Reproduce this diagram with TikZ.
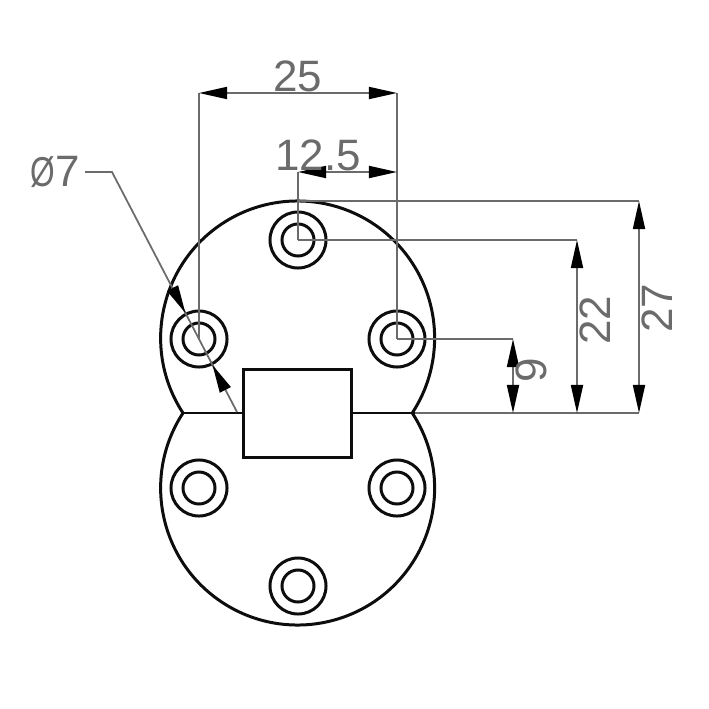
\documentclass[tikz,border=0pt]{standalone}
\usepackage{graphicx}
\usepackage{fontspec}
\setmainfont{Liberation Sans}
\usetikzlibrary{arrows.meta}
\definecolor{dimgray}{gray}{0.42}
\definecolor{partblack}{gray}{0.05}
\tikzset{
  part/.style={draw=partblack,line width=0.85pt},
  dimline/.style={draw=dimgray,line width=0.5pt},
  dimtip/.style={dimline,{Triangle[length=2.8mm,width=1.2mm,color=black]}-{Triangle[length=2.8mm,width=1.2mm,color=black]}},
  leadtip/.style={dimline,-{Triangle[length=2.8mm,width=1.2mm,color=black]}},
  dimtext/.style={text=dimgray,font=\fontsize{12.5}{12.5}\selectfont,inner sep=0pt},
}
\begin{document}
\begin{tikzpicture}[x=0.01cm,y=-0.01cm]
  \useasboundingbox (0,0) rectangle (709,709);

  % body
  \coordinate (hingeL) at (183,413);
  \coordinate (hingeR) at (415,413);
  \draw[part] (hingeL) arc[start angle=146.8,end angle=393.2,radius=137];
  \draw[part] (hingeL) arc[start angle=213.2,end angle=-33.2,radius=137];

  \node[part,minimum width=1.07cm,minimum height=0.87cm,inner sep=0pt] (plate) at (297.5,413.5) {};
  \draw[part] (hingeL) -- (plate.west |- hingeL);
  \draw[part] (plate.east |- hingeR) -- (hingeR);

  % screw holes
  \foreach \hole/\px/\py in {T/298/240,L/199/339,R/397/339,P/199/488,Q/397/488,B/298/586}{
    \node[part,circle,minimum size=0.56cm,inner sep=0pt] (outer\hole) at (\px,\py) {};
    \node[part,circle,minimum size=0.32cm,inner sep=0pt] (inner\hole) at (\px,\py) {};
  }

  % top dimensions
  \coordinate (a25) at (199,93);
  \coordinate (b25) at (397,93);
  \coordinate (a12) at (298,172);
  \coordinate (b12) at (397,172);
  \draw[dimline] (a25) -- (innerL.center);
  \draw[dimline] (b25) -- (innerR.center);
  \draw[dimline] (a12) -- (innerT.center);
  \draw[dimtip] (a25) -- (b25);
  \draw[dimtip] (a12) -- (b12);
  \node[dimtext] (t25) at (298,76) {25};
  \node[dimtext] (t12) at (318,155) {12.5};

  % right dimensions
  \coordinate (start27) at (298,201);
  \coordinate (top27) at (639,201);
  \coordinate (top22) at (577,240);
  \coordinate (top9) at (513,339);
  \coordinate (low27) at (639,413);
  \coordinate (low22) at (577,413);
  \coordinate (low9) at (513,413);
  \draw[dimline] (start27) -- (top27);
  \draw[dimline] (innerT.center) -- (top22);
  \draw[dimline] (innerR.center) -- (top9);
  \draw[dimline] (hingeR) -- (low27);
  \draw[dimtip] (top27) -- (low27);
  \draw[dimtip] (top22) -- (low22);
  \draw[dimtip] (top9) -- (low9);
  \node[dimtext,rotate=90] (t27) at (657,308) {27};
  \node[dimtext,rotate=90] (t22) at (595,320) {22};
  \node[dimtext,rotate=90] (t9) at (531,370) {9};

  % diameter leader
  \node[dimtext] (t7) at (55,172) {\scalebox{0.72}[0.95]{Ø}7};
  \coordinate (leadStart) at (85,172);
  \coordinate (knee) at (112,172);
  \coordinate (leadEnd) at (237,412);
  \coordinate (tipA) at (185.4,313);
  \coordinate (baseA) at (172.5,288);
  \coordinate (tipB) at (212.5,365);
  \coordinate (baseB) at (225.4,390);
  \draw[dimline] (leadStart) -- (knee) -- (leadEnd);
  \draw[leadtip] (baseA) -- (tipA);
  \draw[leadtip] (baseB) -- (tipB);
\end{tikzpicture}
\end{document}
